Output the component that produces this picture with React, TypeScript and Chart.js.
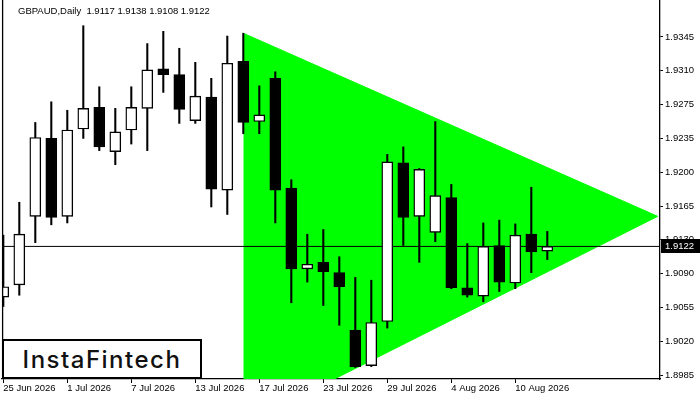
import React, { useEffect, useRef } from "react";
import { Chart, registerables } from "chart.js";

Chart.register(...registerables);

// ---- header ----
const SYMBOL = "GBPAUD,Daily";
const HEADER_VALUES = ["1.9117", "1.9138", "1.9108", "1.9122"];
const WATERMARK = "InstaFintech";

// ---- candles (daily, index 0 = 25 Jun 2026) ----
const opens = [
  1.9068, 1.9081, 1.9154, 1.9237, 1.9154, 1.9247, 1.9270, 1.9223, 1.9246, 1.9269,
  1.9311, 1.9305, 1.9256, 1.9281, 1.9182, 1.9319, 1.9255, 1.9301, 1.9184, 1.9098,
  1.9105, 1.9094, 1.9033, 1.8995, 1.9042, 1.9211, 1.9154, 1.9137, 1.9174, 1.9078,
  1.9069, 1.9123, 1.9083, 1.9135, 1.9117,
];
const highs = [
  1.9134, 1.9169, 1.9254, 1.9276, 1.9267, 1.9357, 1.9292, 1.9269, 1.9292, 1.9338,
  1.9351, 1.9333, 1.9318, 1.9301, 1.9346, 1.9349, 1.9293, 1.9308, 1.9193, 1.9135,
  1.9140, 1.9111, 1.9089, 1.9086, 1.9220, 1.9228, 1.9205, 1.9255, 1.9188, 1.9125,
  1.9147, 1.9150, 1.9146, 1.9185, 1.9138,
];
const lows = [
  1.9058, 1.9070, 1.9126, 1.9145, 1.9147, 1.9237, 1.9224, 1.9209, 1.9231, 1.9224,
  1.9286, 1.9253, 1.9253, 1.9164, 1.9156, 1.9242, 1.9242, 1.9147, 1.9062, 1.9084,
  1.9059, 1.9038, 1.8993, 1.8994, 1.9035, 1.9123, 1.9105, 1.9127, 1.9077, 1.9068,
  1.9063, 1.9074, 1.9077, 1.9094, 1.9108,
];
const closes = [
  1.9079, 1.9135, 1.9238, 1.9153, 1.9246, 1.9269, 1.9228, 1.9244, 1.9270, 1.9310,
  1.9305, 1.9268, 1.9282, 1.9183, 1.9317, 1.9254, 1.9262, 1.9182, 1.9098, 1.9103,
  1.9095, 1.9079, 1.8994, 1.9041, 1.9212, 1.9153, 1.9204, 1.9176, 1.9078, 1.9070,
  1.9122, 1.9084, 1.9134, 1.9116, 1.9122,
];

// ---- axes ----
const xTickIndex = [0, 4, 8, 12, 16, 20, 24, 28, 32];
const xTickLabels = [
  "25 Jun 2026", "1 Jul 2026", "7 Jul 2026", "13 Jul 2026", "17 Jul 2026",
  "23 Jul 2026", "29 Jul 2026", "4 Aug 2026", "10 Aug 2026",
];
const yTickValues = [
  1.9345, 1.9309, 1.9273, 1.9237, 1.9201, 1.9165, 1.9129, 1.9093, 1.9057, 1.9021, 1.8985,
];
const yTickLabels = [
  "1.9345", "1.9310", "1.9275", "1.9235", "1.9200", "1.9165", "1.9130", "1.9090", "1.9055", "1.9020", "1.8985",
];

// ---- pattern (symmetrical triangle) ----
const triangleStartX = 15;
const triangleApexX = 40.9;
const triangleTop = 1.9349;
const triangleApex = 1.9154;
const triangleBottom = 1.8932;

const CURRENT_PRICE = 1.9122;

const FONT = '"Liberation Sans", Arial, sans-serif';

export default function App() {
  const ref = useRef<HTMLCanvasElement | null>(null);

  useEffect(() => {
    document.body.style.margin = "0";
    const canvas = ref.current;
    if (!canvas) return;

    const idx = closes.map((_, i) => i);

    const framePlugin = {
      id: "frame",
      afterDraw(chart: any) {
        const { ctx, chartArea } = chart;
        ctx.save();
        ctx.strokeStyle = "#000";
        ctx.lineWidth = 1.3;
        ctx.beginPath();
        ctx.moveTo(chartArea.left + 0.6, 0);
        ctx.lineTo(chartArea.left + 0.6, chartArea.bottom);
        ctx.stroke();
        const y = chart.scales.y.getPixelForValue(CURRENT_PRICE);
        ctx.fillStyle = "#000";
        ctx.fillRect(chartArea.right + 1, Math.round(y) - 7, 40, 14);
        ctx.fillStyle = "#fff";
        ctx.font = "9.5px " + FONT;
        ctx.textBaseline = "middle";
        ctx.textAlign = "left";
        ctx.fillText(CURRENT_PRICE.toFixed(4), chartArea.right + 5, Math.round(y) + 0.5);
        ctx.restore();
      },
    };

    const chart = new Chart(canvas, {
      type: "bar",
      data: {
        datasets: [
          {
            type: "line",
            data: [
              { x: triangleStartX, y: triangleTop },
              { x: triangleApexX, y: triangleApex },
            ],
            borderColor: "#00ff00",
            borderWidth: 1,
            backgroundColor: "#00ff00",
            pointRadius: 0,
            fill: "+1",
            order: 10,
          } as any,
          {
            type: "line",
            data: [
              { x: triangleStartX, y: triangleBottom },
              { x: triangleApexX, y: triangleApex },
            ],
            borderColor: "#00ff00",
            borderWidth: 1,
            pointRadius: 0,
            fill: false,
            order: 9,
          } as any,
          {
            type: "line",
            data: [
              { x: -1, y: CURRENT_PRICE },
              { x: 45, y: CURRENT_PRICE },
            ],
            borderColor: "#000",
            borderWidth: 1,
            pointRadius: 0,
            fill: false,
            order: 8,
          } as any,
          {
            type: "bar",
            data: idx.map((i) => ({ x: i, y: [lows[i], highs[i]] })),
            backgroundColor: "#000",
            borderWidth: 0,
            barThickness: 1.4,
            grouped: false,
            order: 2,
          } as any,
          {
            type: "bar",
            data: idx.map((i) => ({ x: i, y: [opens[i], closes[i]] })),
            backgroundColor: idx.map((i) => (closes[i] >= opens[i] ? "#ffffff" : "#000000")),
            borderColor: "#000",
            borderWidth: 1.4,
            borderSkipped: false,
            barThickness: 11,
            grouped: false,
            order: 1,
          } as any,
        ],
      },
      options: {
        animation: false,
        responsive: false,
        devicePixelRatio: 1,
        events: [],
        layout: { padding: { left: 2, top: 0, right: 0, bottom: 0 } },
        plugins: { legend: { display: false }, tooltip: { enabled: false } },
        scales: {
          x: {
            type: "linear",
            min: -0.081,
            max: 41.044,
            offset: false,
            grid: { display: true, drawOnChartArea: false, tickLength: 4, tickColor: "#000", offset: false },
            border: { display: true, color: "#000", width: 1.3 },
            afterBuildTicks: (s: any) => {
              s.ticks = xTickIndex.map((v) => ({ value: v }));
            },
            afterFit: (s: any) => {
              s.height = 21;
              s.paddingLeft = 0;
              s.paddingRight = 0;
            },
            ticks: {
              autoSkip: false,
              maxRotation: 0,
              minRotation: 0,
              align: "start",
              padding: 0,
              color: "#000",
              font: { family: FONT, size: 9.5 },
              callback: (_v: any, i: number) => xTickLabels[i],
            },
          },
          y: {
            type: "linear",
            position: "right",
            min: 1.89808,
            max: 1.93844,
            beginAtZero: false,
            grid: { display: true, drawOnChartArea: false, tickLength: 3, tickColor: "#000" },
            border: { display: true, color: "#000", width: 1.3 },
            afterBuildTicks: (s: any) => {
              s.ticks = yTickValues.map((v) => ({ value: v }));
            },
            afterFit: (s: any) => {
              s.width = 40;
              s.paddingTop = 0;
              s.paddingBottom = 0;
            },
            ticks: {
              autoSkip: false,
              padding: 2,
              color: "#000",
              font: { family: FONT, size: 9.5 },
              callback: (_v: any, i: number) => yTickLabels[i],
            },
          },
        },
      } as any,
      plugins: [framePlugin],
    });

    return () => chart.destroy();
  }, []);

  return (
    <div style={{ position: "absolute", left: 0, top: 0, width: 700, height: 400, background: "#fff" }}>
      <canvas ref={ref} width={700} height={400} style={{ display: "block", width: 700, height: 400 }} />
      <div
        style={{
          position: "absolute",
          left: 18,
          top: 5,
          fontFamily: FONT,
          fontSize: 9.5,
          lineHeight: "11px",
          color: "#000",
          whiteSpace: "pre",
        }}
      >
        {SYMBOL + "  " + HEADER_VALUES.join(" ")}
      </div>
      <div
        style={{
          position: "absolute",
          left: 2,
          top: 339,
          width: 200,
          height: 40,
          boxSizing: "border-box",
          border: "2px solid #000",
          background: "#fff",
          display: "flex",
          alignItems: "center",
          justifyContent: "center",
          fontFamily: "Inter, Lato, sans-serif",
          fontWeight: 500,
          fontSize: 24,
          letterSpacing: 1.5,
          color: "#111",
        }}
      >
        {WATERMARK}
      </div>
    </div>
  );
}
